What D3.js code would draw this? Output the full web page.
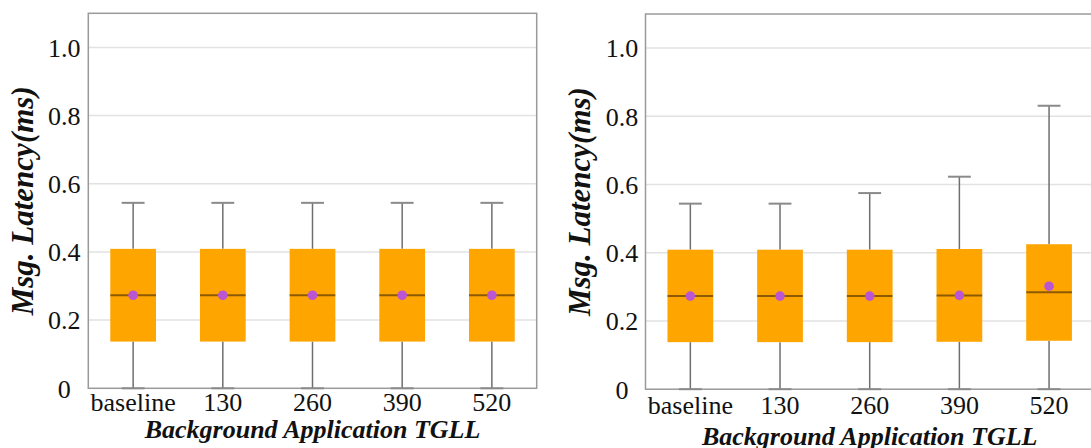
<!DOCTYPE html>
<html>
<head>
<meta charset="utf-8">
<script src="https://cdn.jsdelivr.net/npm/d3@7"></script>
<style>
  html, body { margin: 0; padding: 0; background: #fff; }
  svg { display: block; }
  svg text { font-family: "Liberation Serif", "Times New Roman", Times, Tinos, "DejaVu Serif", serif; fill: #111; }
</style>
</head>
<body>
<svg id="chart" width="1091" height="448"></svg>
<script>
// Categories on the x axis
const categories = ["baseline", "130", "260", "390", "520"];
const yTicks = [0, 0.2, 0.4, 0.6, 0.8, 1.0];
const yTickLabels = ["0", "0.2", "0.4", "0.6", "0.8", "1.0"];

// Left panel: box statistics per category (ms)
const leftLow    = [0, 0, 0, 0, 0];
const leftQ1     = [0.137, 0.137, 0.137, 0.137, 0.137];
const leftMedian = [0.273, 0.273, 0.273, 0.273, 0.273];
const leftQ3     = [0.409, 0.409, 0.409, 0.409, 0.409];
const leftHigh   = [0.544, 0.544, 0.544, 0.544, 0.544];
const leftMean   = [0.273, 0.273, 0.273, 0.273, 0.273];

// Right panel: box statistics per category (ms)
const rightLow    = [0, 0, 0, 0, 0];
const rightQ1     = [0.138, 0.138, 0.138, 0.139, 0.142];
const rightMedian = [0.273, 0.273, 0.273, 0.275, 0.284];
const rightQ3     = [0.409, 0.409, 0.409, 0.411, 0.425];
const rightHigh   = [0.544, 0.544, 0.575, 0.623, 0.831];
const rightMean   = [0.273, 0.273, 0.273, 0.275, 0.302];

const FONT = "'Liberation Serif', 'Times New Roman', Times, Tinos, 'DejaVu Serif', serif";
const svg = d3.select("#chart");

function toRows(low, q1, med, q3, high, mean) {
  return categories.map((c, i) => ({
    cat: c, low: low[i], q1: q1[i], med: med[i], q3: q3[i], high: high[i], mean: mean[i]
  }));
}

function drawPanel(rows, o) {
  const g = svg.append("g");
  const x = d3.scaleBand().domain(categories)
    .range([o.left, o.left + o.width])
    .paddingInner(0.49).paddingOuter(0.245);
  const y = d3.scaleLinear().domain([0, 1.1]).range([o.bottom, o.top]);

  // horizontal grid
  g.append("g").selectAll("line").data(yTicks.filter(t => t > 0)).join("line")
    .attr("x1", o.left).attr("x2", o.left + o.width)
    .attr("y1", d => y(d)).attr("y2", d => y(d))
    .attr("stroke", "#e2e2e2").attr("stroke-width", 1.5);

  // frame
  g.append("rect")
    .attr("x", o.left).attr("y", o.top)
    .attr("width", o.width).attr("height", o.bottom - o.top)
    .attr("fill", "none").attr("stroke", "#9a9a9a").attr("stroke-width", 1.5);

  // y axis labels
  const yAxis = d3.axisLeft(y).tickValues(yTicks)
    .tickFormat((d, i) => yTickLabels[i]).tickSize(0).tickPadding(0);
  const ya = g.append("g").attr("transform", `translate(${o.left},0)`).call(yAxis)
    .attr("font-family", FONT).attr("font-size", 26);
  ya.select(".domain").remove();
  ya.selectAll("text")
    .attr("x", -o.yLabelOffset).attr("dy", "0.34em")
    .attr("text-anchor", "middle")
    .style("font-family", FONT)
    .style("font-size", "26px").attr("fill", "#111");

  // x axis labels
  const xAxis = d3.axisBottom(x).tickSize(0).tickPadding(0);
  const xa = g.append("g").attr("transform", `translate(0,${o.bottom})`).call(xAxis)
    .attr("font-family", FONT).attr("font-size", 26);
  xa.select(".domain").remove();
  xa.selectAll("text")
    .attr("y", o.xLabelBaseline).attr("dy", 0)
    .style("font-family", FONT)
    .style("font-size", "26px").attr("fill", "#111");

  const cx = d => x(d.cat) + x.bandwidth() / 2;
  const bw = x.bandwidth();
  const capW = bw / 2;

  const box = g.append("g").selectAll("g").data(rows).join("g");

  // whiskers
  box.append("line")
    .attr("x1", cx).attr("x2", cx)
    .attr("y1", d => y(d.q3)).attr("y2", d => y(d.high))
    .attr("stroke", "#6f6f6f").attr("stroke-width", 1.5);
  box.append("line")
    .attr("x1", cx).attr("x2", cx)
    .attr("y1", d => y(d.q1)).attr("y2", d => y(d.low))
    .attr("stroke", "#6f6f6f").attr("stroke-width", 1.5);
  // caps
  box.append("line")
    .attr("x1", d => cx(d) - capW / 2).attr("x2", d => cx(d) + capW / 2)
    .attr("y1", d => y(d.high)).attr("y2", d => y(d.high))
    .attr("stroke", "#8a8a8a").attr("stroke-width", 2);
  box.append("line")
    .attr("x1", d => cx(d) - capW / 2).attr("x2", d => cx(d) + capW / 2)
    .attr("y1", d => y(d.low)).attr("y2", d => y(d.low))
    .attr("stroke", "#8a8a8a").attr("stroke-width", 2);

  // boxes
  box.append("rect")
    .attr("x", d => x(d.cat)).attr("width", bw)
    .attr("y", d => y(d.q3)).attr("height", d => y(d.q1) - y(d.q3))
    .attr("fill", "#FFA500");

  // medians
  box.append("line")
    .attr("x1", d => x(d.cat)).attr("x2", d => x(d.cat) + bw)
    .attr("y1", d => y(d.med)).attr("y2", d => y(d.med))
    .attr("stroke", "#000").attr("stroke-opacity", 0.45).attr("stroke-width", 2);

  // means
  box.append("circle")
    .attr("cx", cx).attr("cy", d => y(d.mean)).attr("r", 4.8)
    .attr("fill", "#BA55D3");

  // axis titles
  g.append("text")
    .attr("transform", `translate(${o.yTitleX},${(o.top + o.bottom) / 2}) rotate(-90)`)
    .attr("text-anchor", "middle")
    .style("font-family", FONT)
    .style("font-size", "31px").style("font-weight", "bold").style("font-style", "italic")
    .text("Msg. Latency(ms)");
  g.append("text")
    .attr("x", o.left + o.width / 2).attr("y", o.xTitleY)
    .attr("text-anchor", "middle")
    .style("font-family", FONT)
    .style("font-size", "26px").style("font-weight", "bold").style("font-style", "italic")
    .text("Background Application TGLL");
}

drawPanel(toRows(leftLow, leftQ1, leftMedian, leftQ3, leftHigh, leftMean), {
  left: 88.3, width: 448.4, top: 13.3, bottom: 388.3,
  yLabelOffset: 24, xLabelBaseline: 23, yTitleX: 33, xTitleY: 437.7
});

drawPanel(toRows(rightLow, rightQ1, rightMedian, rightQ3, rightHigh, rightMean), {
  left: 645.5, width: 448.4, top: 14, bottom: 389.2,
  yLabelOffset: 23.5, xLabelBaseline: 25, yTitleX: 590, xTitleY: 445
});
</script>
</body>
</html>
